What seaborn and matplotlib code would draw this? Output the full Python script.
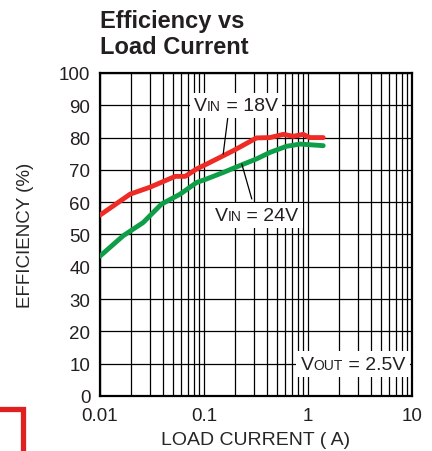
import seaborn as sns
import matplotlib.pyplot as plt
import matplotlib.patches as mpatches
from matplotlib.offsetbox import TextArea, HPacker, AnnotationBbox
import pandas as pd

# Curve data
current_18v = [0.010, 0.0195, 0.030, 0.053, 0.066, 0.085, 0.106, 0.19, 0.32, 0.43, 0.58, 0.72, 0.90, 1.04, 1.40]
eff_18v = [56.0, 62.5, 64.6, 68.0, 68.0, 70.3, 71.8, 75.9, 79.9, 80.0, 81.0, 80.4, 81.0, 80.0, 80.0]
current_24v = [0.010, 0.0167, 0.026, 0.039, 0.059, 0.085, 0.106, 0.153, 0.22, 0.32, 0.43, 0.62, 0.84, 1.40]
eff_24v = [43.3, 49.6, 53.7, 59.4, 62.5, 66.1, 67.2, 69.2, 71.3, 73.4, 75.4, 77.3, 78.0, 77.5]

x_ticks = [0.01, 0.1, 1, 10]
x_tick_labels = ["0.01", "0.1", "1", "10"]
y_ticks = list(range(0, 101, 10))

df = pd.concat([
    pd.DataFrame({"current": current_18v, "eff": eff_18v, "vin": "18V"}),
    pd.DataFrame({"current": current_24v, "eff": eff_24v, "vin": "24V"}),
])

sns.set_style("white")
plt.rcParams["font.family"] = ["Liberation Sans", "DejaVu Sans"]
plt.rcParams["text.color"] = "#231f20"

fig = plt.figure(figsize=(4.32, 4.52), dpi=100)
ax = fig.add_axes([0.2315, 0.1217, 0.7222, 0.7146])

sns.lineplot(data=df, x="current", y="eff", hue="vin",
             palette={"18V": "#ee2b24", "24V": "#0f9e48"},
             linewidth=3.5, legend=False, ax=ax, zorder=3)

ax.set_xscale("log")
ax.set_xlim(0.01, 10)
ax.set_ylim(0, 100)
ax.set_xticks(x_ticks)
ax.set_xticklabels(x_tick_labels)
ax.set_yticks(y_ticks)
ax.grid(True, which="major", color="black", linewidth=0.9)
ax.grid(True, which="minor", axis="x", color="black", linewidth=0.9)
ax.tick_params(axis="both", which="both", length=0, labelsize=13.5,
               labelcolor="#231f20")
ax.tick_params(axis="x", pad=8)
ax.tick_params(axis="y", pad=7)
for s in ax.spines.values():
    s.set_color("black")
    s.set_linewidth(1.6)

ax.set_xlabel("LOAD CURRENT ( A)", fontsize=14, labelpad=5)
ax.set_ylabel("EFFICIENCY (%)", fontsize=13.5, labelpad=18)

fig.text(0.2315, 0.978, "Efficiency vs\nLoad Current", fontsize=17,
         fontweight="bold", ha="left", va="top", linespacing=1.15)

# leader lines
line_kw = dict(arrowstyle="-", color="black", lw=0.9, shrinkA=0, shrinkB=0)
ax.annotate("", xy=(0.153, 74.9), xytext=(0.171, 87.3), arrowprops=line_kw, zorder=4)
ax.annotate("", xy=(0.231, 71.8), xytext=(0.288, 61.0), arrowprops=line_kw, zorder=4)


def label(sub, rest, xy):
    # "V" with a small-caps style "IN"/"OUT" followed by the value
    parts = [TextArea("V", textprops=dict(fontsize=14, color="#231f20")),
             TextArea(sub, textprops=dict(fontsize=10, color="#231f20")),
             TextArea(rest, textprops=dict(fontsize=14, color="#231f20"))]
    pack = HPacker(children=parts, align="baseline", pad=0, sep=0)
    ab = AnnotationBbox(pack, xy, xycoords="data", frameon=True, pad=0.15,
                        bboxprops=dict(fc="white", ec="none", boxstyle="square"),
                        zorder=5)
    ax.add_artist(ab)


label("IN", " = 18V", (0.203, 89.9))
label("IN", " = 24V", (0.32, 55.8))
label("OUT", " = 2.5V", (2.71, 9.9))

# red frame corner at the lower left of the page
fig.patches.append(mpatches.Rectangle((-0.1, -0.1), 0.154, 0.192,
                                      transform=fig.transFigure, fill=False,
                                      edgecolor="#e02020", linewidth=3.8))

plt.savefig("out.png", dpi=100)
